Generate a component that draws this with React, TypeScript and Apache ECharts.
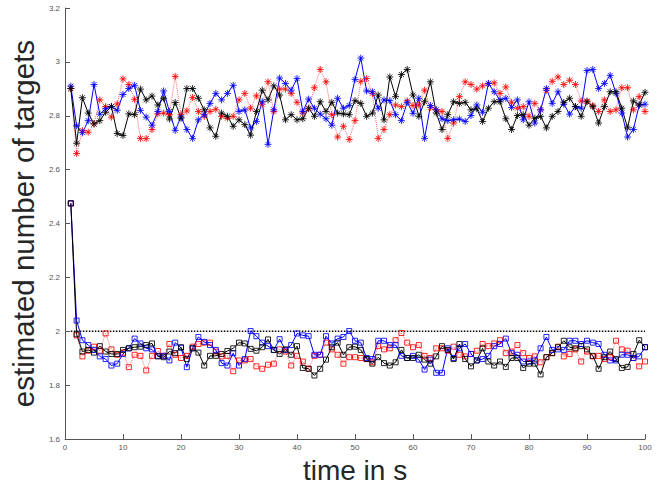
import React, { useEffect, useRef } from "react";
import * as echarts from "echarts";

// time steps (s)
const timeSteps: number[] = Array.from({ length: 100 }, (_, i) => i + 1);

// upper group (asterisk markers)
const upperBlue = [
  2.910, 2.763, 2.737, 2.782, 2.916, 2.806, 2.826, 2.834, 2.820, 2.879,
  2.901, 2.913, 2.820, 2.795, 2.765, 2.816, 2.892, 2.816, 2.746, 2.795,
  2.749, 2.716, 2.785, 2.804, 2.846, 2.883, 2.859, 2.883, 2.913, 2.816,
  2.822, 2.755, 2.779, 2.852, 2.694, 2.822, 2.940, 2.920, 2.895, 2.938,
  2.816, 2.862, 2.828, 2.806, 2.789, 2.765, 2.865, 2.828, 2.838, 2.935,
  3.014, 2.892, 2.889, 2.828, 2.859, 2.856, 2.804, 2.782, 2.850, 2.809,
  2.865, 2.716, 2.838, 2.822, 2.789, 2.782, 2.785, 2.788, 2.779, 2.801,
  2.840, 2.813, 2.920, 2.889, 2.859, 2.865, 2.831, 2.859, 2.785, 2.852,
  2.773, 2.822, 2.901, 2.846, 2.889, 2.843, 2.806, 2.834, 2.828, 2.968,
  2.972, 2.901, 2.920, 2.950, 2.883, 2.810, 2.721, 2.749, 2.840, 2.843,
];
const upperBlack = [
  2.901, 2.698, 2.867, 2.810, 2.770, 2.782, 2.813, 2.834, 2.734, 2.727,
  2.807, 2.804, 2.899, 2.859, 2.873, 2.840, 2.865, 2.788, 2.849, 2.791,
  2.901, 2.901, 2.865, 2.822, 2.755, 2.724, 2.810, 2.798, 2.761, 2.785,
  2.767, 2.728, 2.816, 2.895, 2.859, 2.911, 2.877, 2.785, 2.804, 2.785,
  2.789, 2.828, 2.798, 2.852, 2.816, 2.850, 2.810, 2.807, 2.804, 2.856,
  2.846, 2.798, 2.810, 2.877, 2.785, 2.944, 2.871, 2.953, 2.972, 2.877,
  2.798, 2.852, 2.926, 2.810, 2.749, 2.804, 2.852, 2.846, 2.850, 2.822,
  2.826, 2.779, 2.828, 2.852, 2.852, 2.789, 2.749, 2.801, 2.804, 2.765,
  2.791, 2.798, 2.755, 2.798, 2.816, 2.850, 2.865, 2.834, 2.798, 2.852,
  2.834, 2.773, 2.834, 2.889, 2.889, 2.828, 2.755, 2.855, 2.840, 2.887,
];
const upperRed = [
  2.901, 2.660, 2.745, 2.739, 2.770, 2.859, 2.834, 2.795, 2.844, 2.937,
  2.916, 2.861, 2.716, 2.715, 2.749, 2.807, 2.810, 2.804, 2.946, 2.804,
  2.818, 2.868, 2.816, 2.798, 2.816, 2.824, 2.798, 2.791, 2.798, 2.859,
  2.883, 2.828, 2.874, 2.843, 2.926, 2.816, 2.899, 2.899, 2.883, 2.850,
  2.810, 2.826, 2.904, 2.972, 2.926, 2.804, 2.721, 2.761, 2.712, 2.782,
  2.928, 2.938, 2.883, 2.716, 2.749, 2.804, 2.840, 2.834, 2.855, 2.838,
  2.840, 2.895, 2.831, 2.822, 2.816, 2.716, 2.773, 2.871, 2.926, 2.916,
  2.899, 2.911, 2.920, 2.922, 2.883, 2.907, 2.850, 2.828, 2.834, 2.798,
  2.846, 2.822, 2.895, 2.928, 2.944, 2.916, 2.932, 2.916, 2.855, 2.855,
  2.838, 2.816, 2.859, 2.816, 2.822, 2.904, 2.904, 2.822, 2.871, 2.816,
];

// lower group (square markers)
const lowerBlue = [
  2.475, 2.040, 1.967, 1.949, 1.931, 1.907, 1.897, 1.873, 1.880, 1.916,
  1.937, 1.973, 1.955, 1.937, 1.933, 1.909, 1.909, 1.892, 1.958, 1.939,
  1.867, 1.937, 1.979, 1.961, 1.949, 1.931, 1.882, 1.873, 1.919, 1.873,
  1.897, 2.001, 1.982, 1.958, 1.945, 1.931, 1.971, 1.931, 1.949, 1.992,
  1.985, 1.982, 1.913, 1.913, 1.982, 1.955, 1.973, 1.979, 2.001, 1.965,
  1.958, 1.901, 1.897, 1.965, 1.965, 1.949, 1.949, 1.909, 1.901, 1.909,
  1.895, 1.858, 1.895, 1.846, 1.846, 1.937, 1.901, 1.937, 1.953, 1.916,
  1.892, 1.897, 1.909, 1.945, 1.953, 1.973, 1.919, 1.913, 1.888, 1.888,
  1.892, 1.937, 1.979, 1.931, 1.933, 1.931, 1.965, 1.965, 1.953, 1.965,
  1.958, 1.953, 1.913, 1.892, 1.892, 1.913, 1.913, 1.901, 1.907, 1.941,
];
const lowerBlack = [
  2.475, 1.989, 1.925, 1.931, 1.921, 1.945, 1.925, 1.916, 1.916, 1.931,
  1.937, 1.941, 1.943, 1.949, 1.955, 1.907, 1.904, 1.925, 1.919, 1.941,
  1.897, 1.937, 1.921, 1.873, 1.909, 1.909, 1.916, 1.927, 1.937, 1.958,
  1.955, 1.935, 1.928, 1.941, 1.970, 1.931, 1.916, 1.933, 1.913, 1.945,
  1.864, 1.861, 1.836, 1.861, 1.895, 1.941, 1.958, 1.913, 1.941, 1.943,
  1.931, 1.897, 1.880, 1.904, 1.882, 1.873, 1.885, 1.931, 1.901, 1.901,
  1.913, 1.895, 1.880, 1.907, 1.945, 1.931, 1.897, 1.953, 1.897, 1.870,
  1.892, 1.937, 1.888, 1.873, 1.888, 1.868, 1.901, 1.901, 1.864, 1.880,
  1.880, 1.840, 1.904, 1.919, 1.941, 1.965, 1.941, 1.937, 1.945, 1.933,
  1.909, 1.861, 1.904, 1.925, 1.897, 1.864, 1.868, 1.916, 1.967, 1.941,
];
const lowerRed = [
  2.475, 1.985, 1.907, 1.928, 1.943, 1.928, 1.992, 1.933, 1.913, 1.921,
  1.867, 1.913, 1.909, 1.855, 1.909, 1.927, 1.909, 1.953, 1.913, 1.901,
  1.909, 1.943, 1.953, 1.958, 1.958, 1.925, 1.907, 1.909, 1.852, 1.892,
  1.892, 1.897, 1.870, 1.861, 1.876, 1.880, 1.933, 1.925, 1.873, 1.909,
  1.888, 1.861, 1.909, 1.913, 1.958, 1.933, 1.913, 1.880, 1.904, 1.904,
  1.901, 1.897, 1.885, 1.945, 1.933, 1.937, 1.967, 1.994, 1.958, 1.941,
  1.949, 1.909, 1.901, 1.937, 1.937, 1.928, 1.943, 1.913, 1.907, 1.916,
  1.928, 1.953, 1.945, 1.955, 1.967, 1.919, 1.925, 1.949, 1.919, 1.901,
  1.907, 1.885, 1.904, 1.919, 1.943, 1.907, 1.916, 1.933, 1.888, 1.925,
  1.907, 1.909, 1.897, 1.904, 1.965, 1.933, 1.928, 1.901, 1.870, 1.888,
];

// true number of targets (dotted reference)
const referenceTimes = [1, 100];
const referenceLevel = [2, 2];

const ASTERISK = "path://M5,0L5,10M0,5L10,5M1.5,1.5L8.5,8.5M8.5,1.5L1.5,8.5";

const pair = (ys: number[], xs: number[]) => ys.map((y, i) => [xs[i], y]);

function makeSeries(name: string, ys: number[], color: string, dotted: boolean, asterisk: boolean) {
  return {
    name,
    type: "line",
    data: pair(ys, timeSteps),
    symbol: asterisk ? ASTERISK : "rect",
    symbolSize: asterisk ? 7 : 5,
    symbolKeepAspect: true,
    lineStyle: { color, width: 1, type: dotted ? "dotted" : "solid", opacity: dotted ? 0.6 : 1 },
    itemStyle: { color: "rgba(0,0,0,0)", borderColor: color, borderWidth: 1, opacity: 0.85 },
    emphasis: { disabled: true },
  };
}

export default function App() {
  const ref = useRef<HTMLDivElement>(null);
  useEffect(() => {
    if (!ref.current) return;
    const chart = echarts.init(ref.current, undefined, { renderer: "svg" });
    const font = "'Liberation Sans', Arial, Helvetica, sans-serif";
    chart.setOption({
      animation: false,
      backgroundColor: "#ffffff",
      textStyle: { fontFamily: font },
      grid: { left: 62, top: 8, width: 583, height: 437, containLabel: false },
      xAxis: {
        type: "value",
        min: 0,
        max: 100,
        interval: 10,
        name: "time in s",
        nameLocation: "middle",
        nameGap: 14,
        nameTextStyle: { fontSize: 28, color: "#262626", fontFamily: font, verticalAlign: "top" },
        axisLine: { show: true, lineStyle: { color: "#555555", width: 1 } },
        axisTick: { show: true, inside: true, length: 5, lineStyle: { color: "#555555" } },
        axisLabel: { fontSize: 8, color: "#555555", margin: 4, fontFamily: font },
        splitLine: { show: false },
      },
      yAxis: {
        type: "value",
        min: 1.6,
        max: 3.2,
        interval: 0.2,
        name: "estimated number of targets",
        nameLocation: "middle",
        nameRotate: 90,
        nameGap: 20,
        nameTextStyle: { fontSize: 29.5, color: "#262626", fontFamily: font },
        axisLine: { show: true, lineStyle: { color: "#555555", width: 1 } },
        axisTick: { show: true, inside: true, length: 5, lineStyle: { color: "#555555" } },
        axisLabel: {
          fontSize: 8,
          color: "#555555",
          margin: 5,
          fontFamily: font,
          formatter: (v: number) => String(Math.round(v * 10) / 10),
        },
        splitLine: { show: false },
      },
      series: [
        {
          name: "true",
          type: "line",
          data: pair(referenceLevel, referenceTimes),
          symbol: "none",
          lineStyle: { color: "#000000", width: 1.5, type: [1.5, 1.5] },
          emphasis: { disabled: true },
          z: 1,
        },
        makeSeries("upper red", upperRed, "#ff0000", true, true),
        makeSeries("upper blue", upperBlue, "#0000ff", false, true),
        makeSeries("upper black", upperBlack, "#000000", false, true),
        makeSeries("lower red", lowerRed, "#ff0000", true, false),
        makeSeries("lower blue", lowerBlue, "#0000ff", false, false),
        makeSeries("lower black", lowerBlack, "#000000", false, false),
      ],
    });
    return () => chart.dispose();
  }, []);
  return (
    <div
      ref={ref}
      style={{ position: "fixed", left: 0, top: 0, width: 661, height: 489, background: "#fff" }}
    />
  );
}
